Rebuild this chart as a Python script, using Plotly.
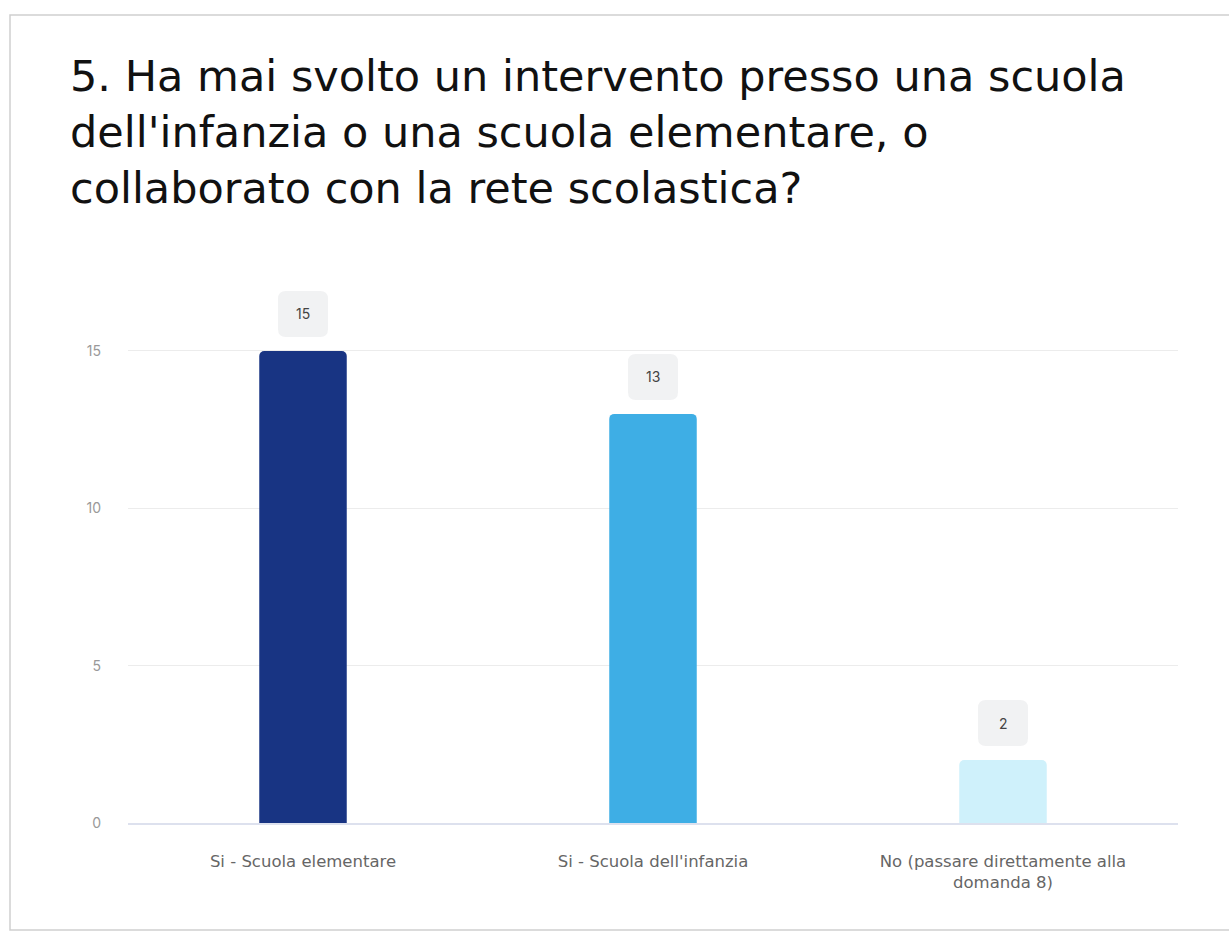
import plotly.graph_objects as go

categories = ["Si - Scuola elementare", "Si - Scuola dell'infanzia", "No (passare direttamente alla<br>domanda 8)"]
values = [15, 13, 2]
colors = ["#183483", "#3eaee5", "#cff1fb"]
y_ticks = [0, 5, 10, 15]
title_text = "5. Ha mai svolto un intervento presso una scuola<br>dell'infanzia o una scuola elementare, o<br>collaborato con la rete scolastica?"

W, H = 1229, 934
ml, mr, mt, mb = 128, 51, 288, 111

fig = go.Figure()
fig.add_trace(go.Bar(
    x=list(range(len(categories))), y=values,
    marker=dict(color=colors, cornerradius=5, line=dict(width=0)),
    width=0.25, hoverinfo="skip",
))

shapes = []
annotations = []
pw, ph = W - ml - mr, H - mt - mb
def px2x(px): return (px - ml) / pw
def py2y(py): return (H - mb - py) / ph
shapes.append(dict(type="rect", xref="paper", yref="paper",
                   x0=px2x(10), x1=px2x(1240), y0=py2y(930), y1=py2y(15),
                   line=dict(color="#cfcfcf", width=1.5), fillcolor="rgba(0,0,0,0)", layer="below"))

for i, v in enumerate(values):
    bw, bh, r = 50, 46, 8
    yb = 14
    x0, x1 = -bw / 2, bw / 2
    y0, y1 = yb, yb + bh
    path = (f"M {x0+r},{y0} L {x1-r},{y0} Q {x1},{y0} {x1},{y0+r} L {x1},{y1-r} Q {x1},{y1} {x1-r},{y1} "
            f"L {x0+r},{y1} Q {x0},{y1} {x0},{y1-r} L {x0},{y0+r} Q {x0},{y0} {x0+r},{y0} Z")
    shapes.append(dict(type="path", xref="x", yref="y", xsizemode="pixel", ysizemode="pixel",
                       xanchor=i, yanchor=v, path=path, fillcolor="#f1f2f3", line=dict(width=0)))
    annotations.append(dict(x=i, y=v, xref="x", yref="y", text=str(v), showarrow=False,
                            yshift=yb + bh / 2, font=dict(size=14, color="#444", family="Inter")))

fig.update_layout(
    width=W, height=H,
    margin=dict(l=ml, r=mr, t=mt, b=mb),
    paper_bgcolor="white", plot_bgcolor="white",
    showlegend=False,
    title=dict(text=title_text, xref="container", yref="container", x=70 / W, xanchor="left",
               y=1 - 91 / H, yanchor="top",
               font=dict(size=43, color="#111", family="DejaVu Sans")),
    xaxis=dict(tickmode="array", tickvals=list(range(len(categories))), ticktext=categories,
               range=[-0.5, 2.5], showgrid=False, zeroline=False, showline=True,
               linecolor="#dde1ee", linewidth=1.5, ticks="", ticklabelstandoff=22,
               tickfont=dict(size=16.5, color="#666", family="DejaVu Sans")),
    yaxis=dict(range=[0, 17], tickvals=y_ticks, showgrid=True, gridcolor="#ececec",
               zeroline=False, showline=False, ticks="", ticklabelstandoff=26,
               tickfont=dict(size=14, color="#999", family="Inter")),
    shapes=shapes, annotations=annotations, bargap=0.75,
)
fig.write_html("out.html")
